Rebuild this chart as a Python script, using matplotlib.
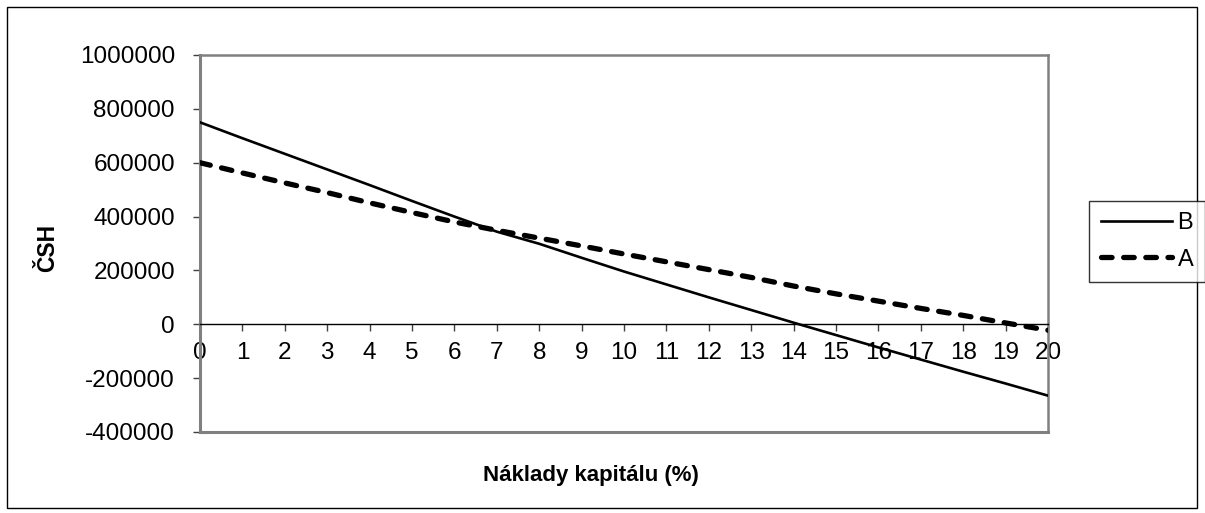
import matplotlib
matplotlib.use("Agg")
import matplotlib.pyplot as plt
from matplotlib.patches import Rectangle

# data
rates = list(range(0, 21))
npv_b = [750000, 691000, 633000, 575000, 517000, 458000, 400000, 344000,
         299000, 247000, 196000, 148000, 100000, 53000, 6000, -40000,
         -86000, -131000, -176000, -220000, -265000]
npv_a = [600000, 562000, 525000, 489000, 451000, 415000, 380000, 349000,
         320000, 291000, 261000, 232000, 203000, 174000, 142000, 113000,
         86000, 59000, 33000, 5000, -22000]
y_ticks = [-400000, -200000, 0, 200000, 400000, 600000, 800000, 1000000]

plt.rcParams["font.family"] = ["Liberation Sans", "DejaVu Sans"]

W, H = 1205, 513
fig = plt.figure(figsize=(W / 100, H / 100), dpi=100)
ax = fig.add_axes([200 / W, 1 - 432 / H, (1048 - 200) / W, (432 - 55) / H])

line_b, = ax.plot(rates, npv_b, color="black", lw=1.9, label="B", zorder=3)
line_a, = ax.plot(rates, npv_a, color="black", lw=3.8, linestyle=(0, (2.0, 2.2)),
                  dash_capstyle="round", label="A", zorder=3)

ax.set_xlim(0, 20)
ax.set_ylim(-400000, 1000000)
ax.set_yticks(y_ticks)
ax.set_yticklabels([str(v) for v in y_ticks])
ax.set_xticks(rates)
ax.set_xticklabels([str(r) for r in rates])

# plot area frame in grey, category axis at zero
for side in ["left", "top", "right"]:
    ax.spines[side].set_color("#808080")
ax.spines["left"].set_linewidth(2.2)
ax.spines["top"].set_linewidth(1.8)
ax.spines["right"].set_linewidth(1.8)
ax.spines["bottom"].set_position(("data", 0))
ax.spines["bottom"].set_color("black")
ax.spines["bottom"].set_linewidth(1.0)
ax.axhline(-400000, color="#808080", lw=2.2, clip_on=False, zorder=2)

ax.tick_params(axis="y", direction="out", length=5, width=1.0, color="#404040",
               labelsize=17.5, pad=13)
ax.tick_params(axis="x", direction="out", length=5, width=1.0, color="#404040",
               labelsize=17.5, pad=8)

fig.text(48 / W, 1 - 248 / H, "ČSH", rotation=90, fontsize=16.5, fontweight="bold",
         ha="center", va="center")
fig.text(591 / W, 1 - 475 / H, "Náklady kapitálu (%)", fontsize=16,
         fontweight="bold", ha="center", va="center")

leg = fig.legend(handles=[line_b, line_a], loc="center left",
                 bbox_to_anchor=(1089 / W, 1 - 241.5 / H), fontsize=17,
                 frameon=True, fancybox=False, handlelength=3.0,
                 handletextpad=0.25, labelspacing=0.6, borderpad=0.5,
                 borderaxespad=0)
leg.get_frame().set_edgecolor("black")
leg.get_frame().set_linewidth(1.0)

# outer chart border
fig.patches.append(Rectangle((7 / W, 1 - 508 / H), (1197 - 7) / W, (508 - 7) / H,
                             transform=fig.transFigure, fill=False,
                             edgecolor="black", lw=1.0))

fig.savefig("out.png", dpi=100)
